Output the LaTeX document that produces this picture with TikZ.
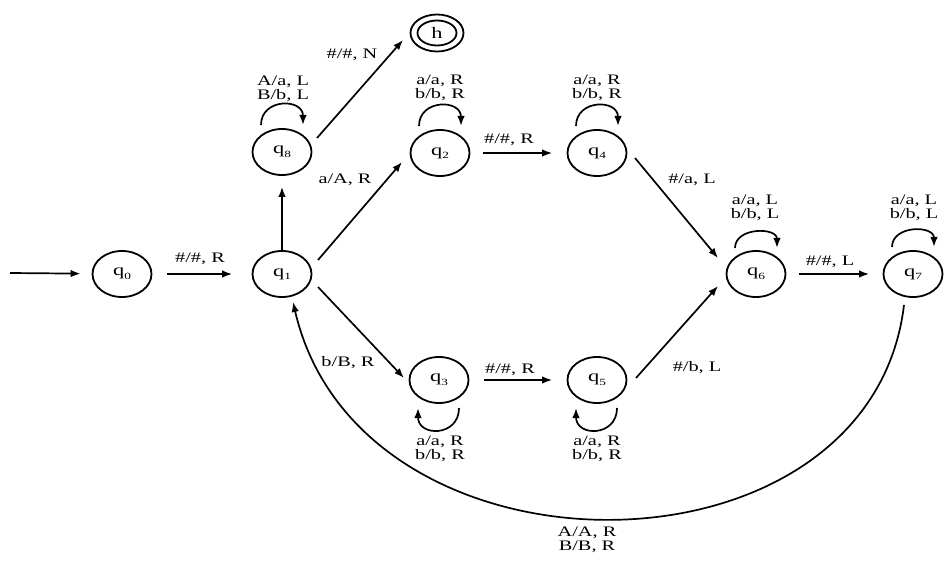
\documentclass[tikz,border=0pt]{standalone}
\usepackage{fontspec}
\setmainfont{Liberation Serif}[FakeStretch=1.4]
\usetikzlibrary{arrows.meta,shapes.geometric}
\newcommand{\qsub}[1]{q\raisebox{-0.5ex}{\fontsize{9.5}{9.5}\selectfont #1}}
\begin{document}
\begin{tikzpicture}[x=1pt,y=1pt,
  state/.style={ellipse, draw, line width=1.8pt, minimum width=59pt, minimum height=46pt, inner sep=0pt, font=\fontsize{16}{16}\selectfont, text=black},
  arr/.style={line width=1.7pt, -{Latex[length=10pt,width=7.5pt]}},
  lbl/.style={font=\fontsize{14.5}{14}\selectfont, align=center, inner sep=0pt, text=black},
]
\useasboundingbox (0,0) rectangle (944,-561);
\fill[white] (0,0) rectangle (944,-561);

% states
\node[state] (q0) at (122,-274) {\qsub{0}};
\node[state] (q1) at (282,-274) {\qsub{1}};
\node[state] (q8) at (282,-152) {\qsub{8}};
\node[state] (q2) at (440,-153) {\qsub{2}};
\node[state] (q4) at (597,-153) {\qsub{4}};
\node[state] (q6) at (756,-274) {\qsub{6}};
\node[state] (q7) at (913,-274) {\qsub{7}};
\node[state] (q3) at (439,-380) {\qsub{3}};
\node[state] (q5) at (597,-380) {\qsub{5}};
\node[state, minimum width=53pt, minimum height=37pt] (h) at (437,-33) {h};
\draw[line width=1.8pt] (h.center) ellipse [x radius=19.5, y radius=12.5];

% start
\coordinate (s) at (10,-273);
\draw[arr, shorten >=11pt] (s) -- (q0);

% straight transitions
\draw[arr, shorten <=15pt, shorten >=19.5pt] (q0) -- (q1);
\draw[arr, shorten >=11pt] (q1) -- (q8);
\draw[arr] ([shift={(36,14)}]q1.center) -- ([shift={(-38,-9)}]q2.center);
\draw[arr] ([shift={(35,14)}]q8.center) -- ([shift={(-34,-7)}]h.center);
\draw[arr] ([shift={(36,-13)}]q1.center) -- ([shift={(-35,2)}]q3.center);
\draw[arr, shorten <=13pt, shorten >=14.5pt] (q2) -- (q4);
\draw[arr, shorten <=14.5pt, shorten >=14.5pt] (q3) -- (q5);
\draw[arr] ([shift={(38,-5)}]q4.center) -- ([shift={(-38,16)}]q6.center);
\draw[arr] ([shift={(39,2)}]q5.center) -- ([shift={(-38,-12)}]q6.center);
\draw[arr, shorten <=12.5pt, shorten >=13.5pt] (q6) -- (q7);

% long return curve
\draw[arr] ([shift={(-9,-31)}]q7.center) .. controls +(-34,-284) and +(67,-290) .. ([shift={(11,-28)}]q1.center);

% loops
\draw[arr] ([shift={(-21,27)}]q8.center) .. controls +(0,27) and +(0,27) .. ([shift={(21,27)}]q8.center);
\draw[arr] ([shift={(-21,27)}]q2.center) .. controls +(0,27) and +(0,27) .. ([shift={(21,27)}]q2.center);
\draw[arr] ([shift={(-21,27)}]q4.center) .. controls +(0,27) and +(0,27) .. ([shift={(21,27)}]q4.center);
\draw[arr] ([shift={(-21,26)}]q6.center) .. controls +(0,21) and +(0,21) .. ([shift={(21,26)}]q6.center);
\draw[arr] ([shift={(-21,27)}]q7.center) .. controls +(0,22) and +(0,22) .. ([shift={(21,27)}]q7.center);
\draw[arr] ([shift={(20,-28)}]q3.center) .. controls +(0,-29) and +(0,-29) .. ([shift={(-21,-28)}]q3.center);
\draw[arr] ([shift={(20,-28)}]q5.center) .. controls +(0,-29) and +(0,-29) .. ([shift={(-21,-28)}]q5.center);

% loop labels
\node[lbl] (l8) at (283,-89) {A/a, L\\B/b, L};
\node[lbl] (l2) at (440,-88) {a/a, R\\b/b, R};
\node[lbl] (l4) at (597,-88) {a/a, R\\b/b, R};
\node[lbl] (l6) at (755,-208) {a/a, L\\b/b, L};
\node[lbl] (l7) at (914,-208) {a/a, L\\b/b, L};
\node[lbl] (l3) at (440,-449) {a/a, R\\b/b, R};
\node[lbl] (l5) at (597,-449) {a/a, R\\b/b, R};
\node[lbl] (lret) at (587,-540) {A/A, R\\B/B, R};

% edge labels
\node[lbl] (l01) at (200,-259) {\#/\#, R};
\node[lbl] (l8h) at (352,-55) {\#/\#, N};
\node[lbl] (l12) at (345,-180) {a/A, R};
\node[lbl] (l13) at (348,-363) {b/B, R};
\node[lbl] (l24) at (509,-140) {\#/\#, R};
\node[lbl] (l35) at (510,-370) {\#/\#, R};
\node[lbl] (l46) at (692,-180) {\#/a, L};
\node[lbl] (l56) at (697,-368) {\#/b, L};
\node[lbl] (l67) at (830,-262) {\#/\#, L};
\end{tikzpicture}
\end{document}
